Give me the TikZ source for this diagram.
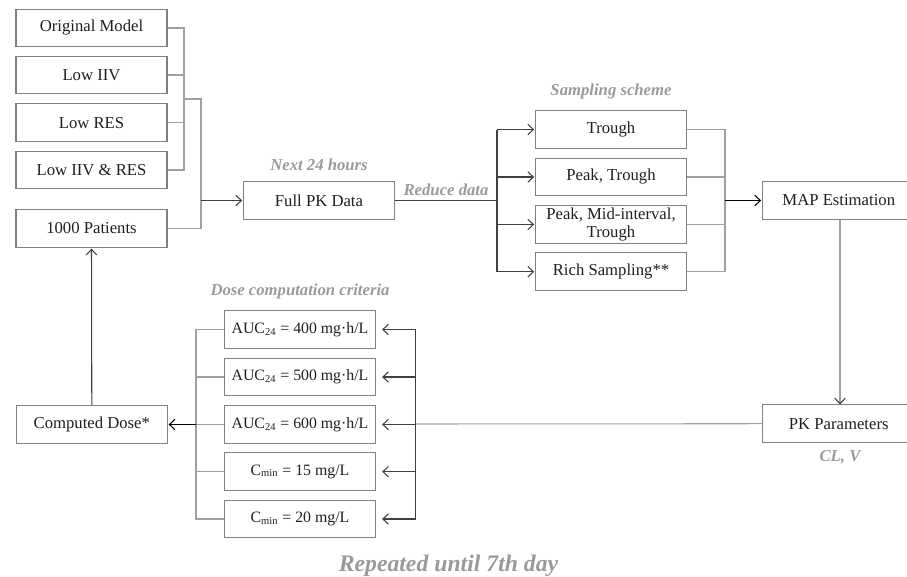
\documentclass[tikz,border=0pt]{standalone}
\usepackage{fontspec}
\setmainfont{Liberation Serif}
\usetikzlibrary{arrows.meta,positioning,calc}
\definecolor{pkText}{HTML}{1f1f1f}
\definecolor{pkEdge}{HTML}{7f7f7f}
\definecolor{pkLbl}{HTML}{9a9a9a}
\definecolor{pkLine}{HTML}{a0a0a0}
\definecolor{pkDark}{HTML}{404040}
\tikzset{
  >={Straight Barb[length=1.1mm,width=2.1mm]},
  box/.style={draw=pkEdge, line width=0.6pt, fill=white, text=pkText,
              minimum width=3.02cm, minimum height=0.75cm, inner sep=1pt,
              align=center, font=\fontsize{9.5}{10.5}\selectfont},
  crit/.style={box, font=\fontsize{9}{10.5}\selectfont},
  lbl/.style={font=\fontsize{9.5}{11}\selectfont\bfseries\itshape, text=pkLbl},
  big/.style={font=\fontsize{13.5}{15}\selectfont\bfseries\itshape, text=pkLbl},
  line/.style={draw=pkLine, line width=0.6pt},
  arr/.style={->, draw=pkDark, line width=0.6pt, shorten >=0.5pt},
  dark/.style={draw=pkDark, line width=0.6pt},
}
\newcommand{\lowtxt}[1]{\textsubscript{\fontsize{6}{6}\selectfont #1}}

\begin{document}
\begin{tikzpicture}[x=0.02cm,y=-0.02cm]
  \useasboundingbox (0,0) rectangle (907,576);
  % models and patients
  \foreach \i/\y/\t in {0/28/Original Model,1/75/Low IIV,2/122.7/Low RES,3/170/Low IIV \& RES}{
    \node[box] (m\i) at (91.5,\y) {\t};
  }
  \node[box] (pat) at (91.5,228.5) {1000 Patients};
  \node[box] (full) at (319,200.5) {Full PK Data};
  \node[lbl,above=0.9mm of full] (next) {Next 24 hours};
  % sampling schemes
  \foreach \i/\y/\t in {1/129.5/Trough,2/177/{Peak, Trough},3/224.5/{Peak, Mid-interval,\\Trough},4/271.7/Rich Sampling**}{
    \node[box] (s\i) at (611,\y) {\t};
  }
  \node[lbl,above=0.9mm of s1] (samp) {Sampling scheme};
  \node[box,minimum width=3.3cm] (map) at (845,200.5) {\hspace*{-0.25cm}MAP Estimation};
  \node[box,minimum width=3.3cm] (pk) at (845,423.7) {\hspace*{-0.25cm}PK Parameters};
  \node[lbl,below=0.3mm of pk,xshift=-0.1cm] (clv) {CL, V};
  % dose criteria
  \foreach \i/\y/\t in {1/329.5/{AUC\lowtxt{24} = 400 mg·h/L},2/377/{AUC\lowtxt{24} = 500 mg·h/L},
                        3/424.5/{AUC\lowtxt{24} = 600 mg·h/L},4/471.7/{C\lowtxt{min} = 15 mg/L},
                        5/519/{C\lowtxt{min} = 20 mg/L}}{
    \node[crit] (c\i) at (300,\y) {\t};
  }
  \node[lbl,above=0.9mm of c1] (crit) {Dose computation criteria};
  \node[box] (dose) at (91.8,424.5) {Computed Dose*};
  \node[big] (rep) at (448.5,566) {Repeated until 7th day};

  % junctions
  \coordinate (jm) at (184,99);
  \coordinate (jp) at (201,99);
  \coordinate (jr) at (497,200.5);
  \coordinate (js) at (725,200.5);
  \coordinate (jc) at (415.7,424);
  \coordinate (jd) at (196,424.5);

  \foreach \i in {0,...,3}{\draw[line] (m\i.east) -| (jm);}
  \draw[line] (jm) -- (jp) |- (pat.east);
  \draw[arr] (jp |- full.west) -- (full.west);
  \draw[dark] (full.east) -- node[lbl,above=-0.3mm] {Reduce data} (jr);
  \draw[dark] (jr |- s1.west) -- (jr |- s4.west);
  \foreach \i in {1,...,4}{
    \draw[arr] (jr |- s\i.west) -- (s\i.west);
    \draw[line] (s\i.east) -| (js);
  }
  \draw[arr,draw=black] (js) -- (map.west);
  \draw[line] (map.south -| clv) -- (pk.north -| clv);
  \draw[->,draw=pkDark,line width=0.6pt] ($(pk.north -| clv)+(0,-1)$) -- (pk.north -| clv);
  \draw[line] (pk.west) -- (jc);
  \draw[dark] (jc |- c1.east) -- (jc |- c5.east);
  \foreach \i in {1,...,5}{
    \draw[arr] (jc |- c\i.east) -- ([xshift=3pt]c\i.east);
    \draw[line] (c\i.west) -| (jd);
  }
  \draw[arr,draw=black] (jd) -- (dose.east);
  \draw[arr] (dose.north) -- (pat.south);
\end{tikzpicture}
\end{document}
